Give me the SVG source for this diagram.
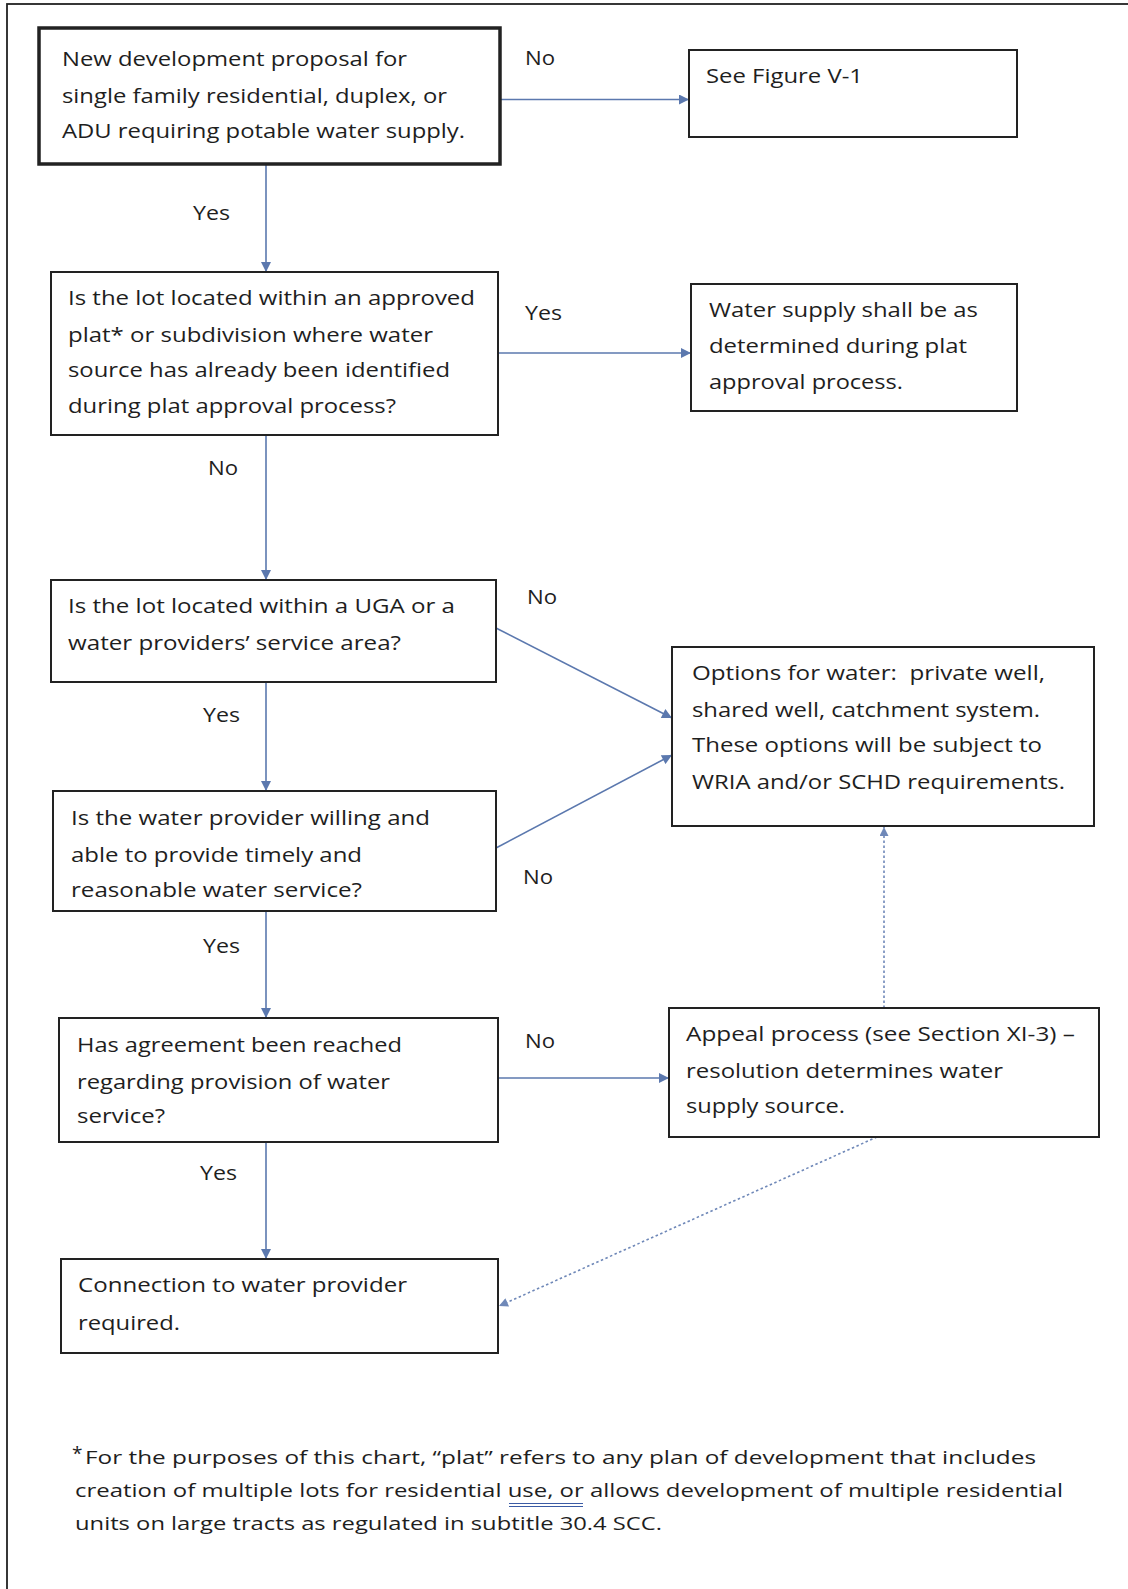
<svg xmlns="http://www.w3.org/2000/svg" width="1128" height="1589" viewBox="0 0 1128 1589">
<style>
.box{fill:#ffffff;stroke:#222222;stroke-width:2}
.thick{stroke-width:3.5}
.t{font-family:"Open Sans","DejaVu Sans",sans-serif;font-size:20px;fill:#1e1e1e}
.fn{font-family:"Open Sans","DejaVu Sans",sans-serif;font-size:19px;fill:#1e1e1e}
.c{stroke:#5b78ae;stroke-width:1.6;fill:none}
.d{stroke:#6f88b8;stroke-width:1.6;fill:none;stroke-dasharray:2.5 2.5}
</style>
<defs>
<marker id="ah" viewBox="0 0 10 10" refX="10" refY="5" markerWidth="12" markerHeight="10" markerUnits="userSpaceOnUse" orient="auto">
<path d="M0,0 L10,5 L0,10 z" fill="#5b78ae"/>
</marker>
<marker id="ahd" viewBox="0 0 10 10" refX="10" refY="5" markerWidth="11" markerHeight="9" markerUnits="userSpaceOnUse" orient="auto">
<path d="M0,0 L10,5 L0,10 z" fill="#6f88b8"/>
</marker>
</defs>
<rect x="0" y="0" width="1128" height="1589" fill="#ffffff"/>
<rect x="7" y="4" width="1200" height="1700" fill="none" stroke="#222222" stroke-width="1.8"/>

<g id="connectors">
<line class="c" x1="500" y1="99.5" x2="689" y2="99.5" marker-end="url(#ah)"/>
<line class="c" x1="266" y1="164" x2="266" y2="272" marker-end="url(#ah)"/>
<line class="c" x1="498" y1="353" x2="691" y2="353" marker-end="url(#ah)"/>
<line class="c" x1="266" y1="435" x2="266" y2="580" marker-end="url(#ah)"/>
<line class="c" x1="496" y1="628" x2="672" y2="718" marker-end="url(#ah)"/>
<line class="c" x1="266" y1="682" x2="266" y2="791" marker-end="url(#ah)"/>
<line class="c" x1="496" y1="848" x2="672" y2="755" marker-end="url(#ah)"/>
<line class="c" x1="266" y1="911" x2="266" y2="1018" marker-end="url(#ah)"/>
<line class="c" x1="498" y1="1078" x2="669" y2="1078" stroke-width="2.2" marker-end="url(#ah)"/>
<line class="c" x1="266" y1="1142" x2="266" y2="1259" marker-end="url(#ah)"/>
<line class="d" x1="884" y1="1008" x2="884" y2="827" marker-end="url(#ahd)"/>
<line class="d" x1="877" y1="1137" x2="499" y2="1306" marker-end="url(#ahd)"/>
<text class="t" x="525" y="65" textLength="30" lengthAdjust="spacingAndGlyphs">No</text>
<text class="t" x="193" y="220" textLength="37" lengthAdjust="spacingAndGlyphs">Yes</text>
<text class="t" x="525" y="320" textLength="37" lengthAdjust="spacingAndGlyphs">Yes</text>
<text class="t" x="208" y="475" textLength="30" lengthAdjust="spacingAndGlyphs">No</text>
<text class="t" x="527" y="604" textLength="30" lengthAdjust="spacingAndGlyphs">No</text>
<text class="t" x="203" y="722" textLength="37" lengthAdjust="spacingAndGlyphs">Yes</text>
<text class="t" x="523" y="884" textLength="30" lengthAdjust="spacingAndGlyphs">No</text>
<text class="t" x="203" y="953" textLength="37" lengthAdjust="spacingAndGlyphs">Yes</text>
<text class="t" x="525" y="1048" textLength="30" lengthAdjust="spacingAndGlyphs">No</text>
<text class="t" x="200" y="1180" textLength="37" lengthAdjust="spacingAndGlyphs">Yes</text>
</g>

<g id="node-start">
<rect class="box thick" x="39" y="28" width="461" height="136"/>
<text class="t" x="62" y="66" textLength="345" lengthAdjust="spacingAndGlyphs">New development proposal for</text>
<text class="t" x="62" y="102.5" textLength="385" lengthAdjust="spacingAndGlyphs">single family residential, duplex, or</text>
<text class="t" x="62" y="137.5" textLength="403" lengthAdjust="spacingAndGlyphs">ADU requiring potable water supply.</text>
</g>

<g id="node-fig">
<rect class="box" x="689" y="50" width="328" height="87"/>
<text class="t" x="706" y="83" textLength="157" lengthAdjust="spacingAndGlyphs">See Figure V-1</text>
</g>

<g id="node-plat">
<rect class="box" x="51" y="272" width="447" height="163"/>
<text class="t" x="68" y="305" textLength="407" lengthAdjust="spacingAndGlyphs">Is the lot located within an approved</text>
<text class="t" x="68" y="341.5" textLength="365" lengthAdjust="spacingAndGlyphs">plat* or subdivision where water</text>
<text class="t" x="68" y="377" textLength="382" lengthAdjust="spacingAndGlyphs">source has already been identified</text>
<text class="t" x="68" y="413" textLength="328" lengthAdjust="spacingAndGlyphs">during plat approval process?</text>
</g>

<g id="node-platsupply">
<rect class="box" x="691" y="284" width="326" height="127"/>
<text class="t" x="709" y="317" textLength="269" lengthAdjust="spacingAndGlyphs">Water supply shall be as</text>
<text class="t" x="709" y="353" textLength="258" lengthAdjust="spacingAndGlyphs">determined during plat</text>
<text class="t" x="709" y="388.5" textLength="194" lengthAdjust="spacingAndGlyphs">approval process.</text>
</g>

<g id="node-uga">
<rect class="box" x="51" y="580" width="445" height="102"/>
<text class="t" x="68" y="613" textLength="387" lengthAdjust="spacingAndGlyphs">Is the lot located within a UGA or a</text>
<text class="t" x="68" y="650" textLength="333" lengthAdjust="spacingAndGlyphs">water providers’ service area?</text>
</g>

<g id="node-options">
<rect class="box" x="672" y="647" width="422" height="179"/>
<text class="t" x="692" y="680" textLength="353" lengthAdjust="spacingAndGlyphs" xml:space="preserve">Options for water:  private well,</text>
<text class="t" x="692" y="716.5" textLength="348" lengthAdjust="spacingAndGlyphs">shared well, catchment system.</text>
<text class="t" x="692" y="752" textLength="350" lengthAdjust="spacingAndGlyphs">These options will be subject to</text>
<text class="t" x="692" y="789" textLength="373" lengthAdjust="spacingAndGlyphs">WRIA and/or SCHD requirements.</text>
</g>

<g id="node-willing">
<rect class="box" x="53" y="791" width="443" height="120"/>
<text class="t" x="71" y="825" textLength="359" lengthAdjust="spacingAndGlyphs">Is the water provider willing and</text>
<text class="t" x="71" y="861.5" textLength="291" lengthAdjust="spacingAndGlyphs">able to provide timely and</text>
<text class="t" x="71" y="897" textLength="291" lengthAdjust="spacingAndGlyphs">reasonable water service?</text>
</g>

<g id="node-agreement">
<rect class="box" x="59" y="1018" width="439" height="124"/>
<text class="t" x="77" y="1052" textLength="325" lengthAdjust="spacingAndGlyphs">Has agreement been reached</text>
<text class="t" x="77" y="1089" textLength="313" lengthAdjust="spacingAndGlyphs">regarding provision of water</text>
<text class="t" x="77" y="1123" textLength="88" lengthAdjust="spacingAndGlyphs">service?</text>
</g>

<g id="node-appeal">
<rect class="box" x="669" y="1008" width="430" height="129"/>
<text class="t" x="686" y="1041" textLength="389" lengthAdjust="spacingAndGlyphs">Appeal process (see Section XI-3) –</text>
<text class="t" x="686" y="1078" textLength="317" lengthAdjust="spacingAndGlyphs">resolution determines water</text>
<text class="t" x="686" y="1113" textLength="159" lengthAdjust="spacingAndGlyphs">supply source.</text>
</g>

<g id="node-connection">
<rect class="box" x="61" y="1259" width="437" height="94"/>
<text class="t" x="78" y="1292" textLength="329" lengthAdjust="spacingAndGlyphs">Connection to water provider</text>
<text class="t" x="78" y="1330" textLength="102" lengthAdjust="spacingAndGlyphs">required.</text>
</g>

<g id="footnote">
<text class="fn" x="72" y="1460" font-size="13">*</text>
<text class="fn" x="85" y="1464" textLength="951" lengthAdjust="spacingAndGlyphs">For the purposes of this chart, “plat” refers to any plan of development that includes</text>
<text class="fn" x="75" y="1497" textLength="988" lengthAdjust="spacingAndGlyphs">creation of multiple lots for residential use, or allows development of multiple residential</text>
<text class="fn" x="75" y="1530" textLength="587" lengthAdjust="spacingAndGlyphs">units on large tracts as regulated in subtitle 30.4 SCC.</text>
<line x1="509" y1="1503.5" x2="583" y2="1503.5" stroke="#3b5ba5" stroke-width="1.2"/>
<line x1="509" y1="1506.5" x2="583" y2="1506.5" stroke="#3b5ba5" stroke-width="1.2"/>
</g>
</svg>
